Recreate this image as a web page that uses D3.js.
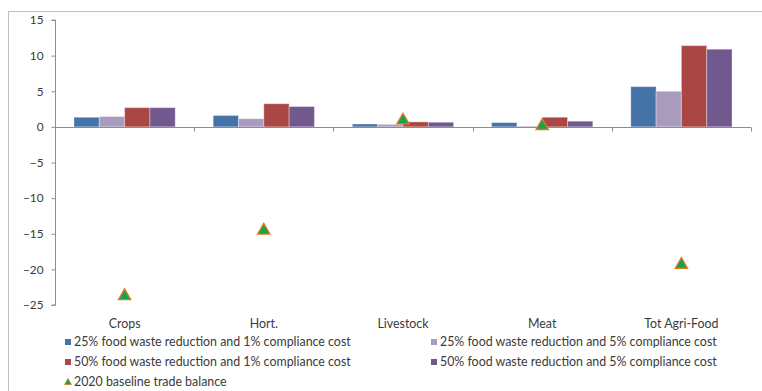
<!DOCTYPE html>
<html>
<head>
<meta charset="utf-8">
<script src="https://cdn.jsdelivr.net/npm/d3@7"></script>
<style>
  html, body { margin: 0; padding: 0; background: #fff; }
  svg { display: block; font-family: "Lato", "Open Sans", sans-serif; }
</style>
</head>
<body>
<svg id="chart" width="762" height="391"></svg>
<script>
// Trade balance change by sector under food waste scenarios
const categories = ["Crops", "Hort.", "Livestock", "Meat", "Tot Agri-Food"];
const seriesNames = [
  "25% food waste reduction and 1% compliance cost",
  "25% food waste reduction and 5% compliance cost",
  "50% food waste reduction and 1% compliance cost",
  "50% food waste reduction and 5% compliance cost"
];
const s25_1 = [1.35, 1.6, 0.4, 0.6, 5.65];
const s25_5 = [1.45, 1.15, 0.35, 0.1, 5.0];
const s50_1 = [2.7, 3.25, 0.7, 1.35, 11.4];
const s50_5 = [2.7, 2.85, 0.65, 0.8, 10.9];
const baselineName = "2020 baseline trade balance";
const baseline = [-23.6, -14.4, 1.05, 0.27, -19.2];
const yTicks = [15, 10, 5, 0, -5, -10, -15, -20, -25];

const seriesValues = [s25_1, s25_5, s50_1, s50_5];
const colors = ["#4572A7", "#A99BBD", "#AA4643", "#71588F"];
const triFill = "#12A54A", triStroke = "#E07A26";
const axisColor = "#8C8C8C", textColor = "#3A3A3A";

const svg = d3.select("#chart");

// outer frame
svg.append("rect")
  .attr("x", 8.5).attr("y", 11.5)
  .attr("width", 800).attr("height", 400)
  .attr("fill", "none").attr("stroke", "#BFBFBF").attr("stroke-width", 1);

const x = d3.scaleBand().domain(categories).range([55, 751]).paddingInner(0).paddingOuter(0);
const y = d3.scaleLinear().domain([-25, 15]).range([305, 20]);
const bw = x.bandwidth();
const barW = bw / 5.5;          // gap width 150%
const groupOffset = (bw - 4 * barW) / 2;

// bars
seriesValues.forEach((vals, si) => {
  svg.append("g").selectAll("rect")
    .data(vals)
    .join("rect")
    .attr("x", (d, i) => x(categories[i]) + groupOffset + si * barW)
    .attr("y", d => y(Math.max(0, d)))
    .attr("width", barW)
    .attr("height", d => Math.abs(y(d) - y(0)))
    .attr("fill", colors[si])
    .attr("stroke", "rgba(255,255,255,0.35)")
    .attr("stroke-width", 1);
});

// value axis
const yAxis = svg.append("g")
  .attr("transform", "translate(55.5,0)")
  .call(d3.axisLeft(y).tickValues(yTicks).tickSize(4).tickPadding(8).tickFormat(d3.format("d")));
yAxis.select(".domain").attr("stroke", axisColor).attr("d", `M-4,${y(15)}H0V${y(-25)}H-4`);
yAxis.selectAll(".tick line").attr("stroke", axisColor);
yAxis.selectAll(".tick text").attr("fill", textColor).style("font-size", "11.8px")
  .style("font-family", "Lato, 'Open Sans', sans-serif");

// category axis drawn on the zero line
const xAxis = svg.append("g")
  .attr("transform", `translate(0,${Math.round(y(0)) + 0.5})`);
xAxis.append("line")
  .attr("x1", 55).attr("x2", 751)
  .attr("stroke", axisColor);
const edges = categories.map(c => x(c)).concat([x(categories[categories.length - 1]) + bw]);
xAxis.selectAll("line.tk").data(edges).join("line")
  .attr("class", "tk")
  .attr("x1", d => Math.round(d) + 0.5).attr("x2", d => Math.round(d) + 0.5)
  .attr("y1", 0).attr("y2", 4)
  .attr("stroke", axisColor);

// category labels at the bottom
svg.append("g").selectAll("text")
  .data(categories)
  .join("text")
  .attr("x", d => x(d) + bw / 2)
  .attr("y", 327.8)
  .attr("text-anchor", "middle")
  .attr("fill", textColor)
  .style("font-size", "12.4px")
  .text(d => d);

// baseline markers
const tri = d3.symbol().type(d3.symbolTriangle).size(66);
svg.append("g").selectAll("path")
  .data(baseline)
  .join("path")
  .attr("transform", (d, i) => `translate(${x(categories[i]) + bw / 2},${y(d) + 1})`)
  .attr("d", tri)
  .attr("fill", triFill)
  .attr("stroke", triStroke)
  .attr("stroke-width", 1.3);

// legend
const legendPos = [[65, 342], [431, 342], [65, 362], [431, 362]];
const legend = svg.append("g");
seriesNames.forEach((name, i) => {
  const [lx, ly] = legendPos[i];
  legend.append("rect")
    .attr("x", lx).attr("y", ly - 3).attr("width", 6).attr("height", 6)
    .attr("fill", colors[i]);
  legend.append("text")
    .attr("x", lx + 9).attr("y", ly + 4.4)
    .attr("fill", textColor)
    .style("font-size", "12.4px")
    .text(name);
});
legend.append("path")
  .attr("transform", "translate(68,382.5)")
  .attr("d", d3.symbol().type(d3.symbolTriangle).size(20))
  .attr("fill", triFill).attr("stroke", triStroke).attr("stroke-width", 0.8);
legend.append("text")
  .attr("x", 74).attr("y", 386.4)
  .attr("fill", textColor)
  .style("font-size", "12.4px")
  .text(baselineName);
</script>
</body>
</html>
